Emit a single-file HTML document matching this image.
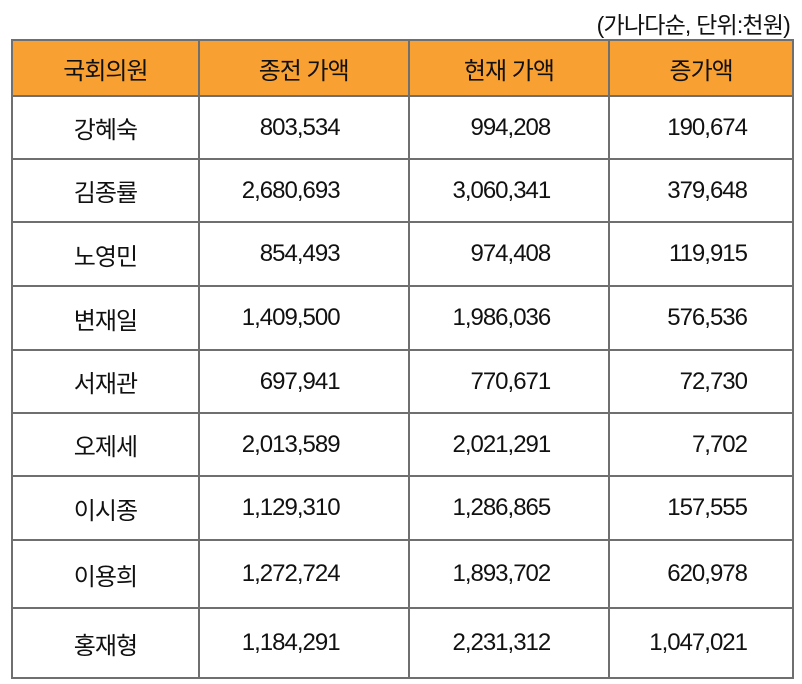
<!DOCTYPE html>
<html><head><meta charset="utf-8"><style>
body{margin:0;width:802px;height:684px;background:#fff;font-family:"Liberation Sans","Noto Sans CJK KR",sans-serif;color:#111;position:relative;overflow:hidden}
.cap{position:absolute;right:12px;top:6px;font-size:23px;letter-spacing:-0.8px}
table{position:absolute;left:11px;top:39px;border-collapse:collapse;width:783px;font-size:24px;letter-spacing:-1px}
td,th{border:2px solid #6f6f6f;padding:0}
th{background:#f9a033;font-weight:normal;height:54px}
td{text-align:right}
td.n{text-align:center}
td.c2{padding-right:68px}td.c3{padding-right:58px}td.c4{padding-right:45px}
</style></head><body>
<div class="cap">(가나다순, 단위:천원)</div>
<table>
<colgroup><col style="width:188px"><col style="width:210px"><col style="width:201px"><col style="width:184px"></colgroup>
<tr><th>국회의원</th><th>종전 가액</th><th>현재 가액</th><th>증가액</th></tr>
<tr style="height:63px"><td class="n">강혜숙</td><td class="c2">803,534</td><td class="c3">994,208</td><td class="c4">190,674</td></tr>
<tr style="height:63px"><td class="n">김종률</td><td class="c2">2,680,693</td><td class="c3">3,060,341</td><td class="c4">379,648</td></tr>
<tr style="height:64px"><td class="n">노영민</td><td class="c2">854,493</td><td class="c3">974,408</td><td class="c4">119,915</td></tr>
<tr style="height:64px"><td class="n">변재일</td><td class="c2">1,409,500</td><td class="c3">1,986,036</td><td class="c4">576,536</td></tr>
<tr style="height:63px"><td class="n">서재관</td><td class="c2">697,941</td><td class="c3">770,671</td><td class="c4">72,730</td></tr>
<tr style="height:63px"><td class="n">오제세</td><td class="c2">2,013,589</td><td class="c3">2,021,291</td><td class="c4">7,702</td></tr>
<tr style="height:64px"><td class="n">이시종</td><td class="c2">1,129,310</td><td class="c3">1,286,865</td><td class="c4">157,555</td></tr>
<tr style="height:68px"><td class="n">이용희</td><td class="c2">1,272,724</td><td class="c3">1,893,702</td><td class="c4">620,978</td></tr>
<tr style="height:70px"><td class="n">홍재형</td><td class="c2">1,184,291</td><td class="c3">2,231,312</td><td class="c4">1,047,021</td></tr>
</table>
</body></html>
